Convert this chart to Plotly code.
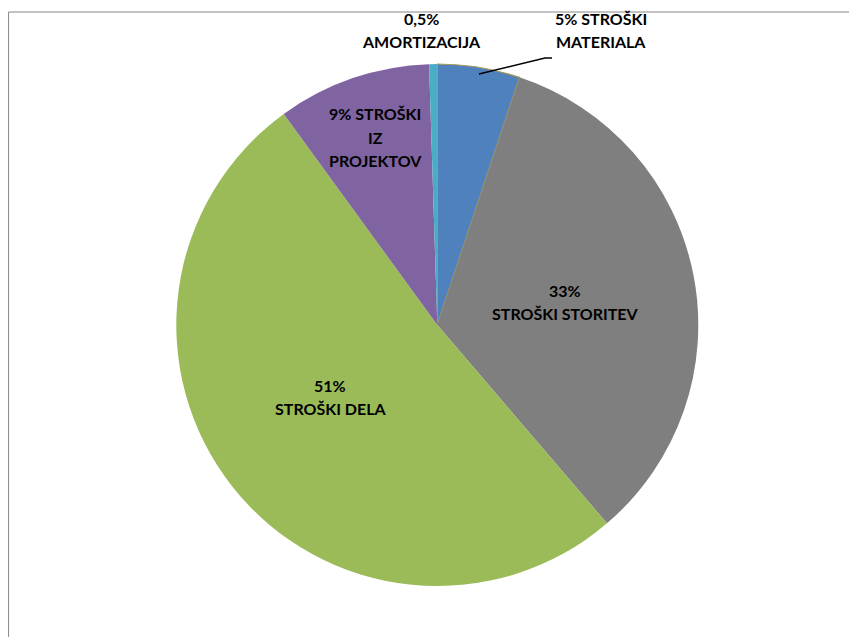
import plotly.graph_objects as go

# Data (clockwise from 12 o'clock)
categories = ["STROŠKI MATERIALA", "STROŠKI STORITEV", "STROŠKI DELA", "STROŠKI IZ PROJEKTOV", "AMORTIZACIJA"]
values = [5.1, 33.6, 51.2, 9.5, 0.5]
pct_text = ["5%", "33%", "51%", "9%", "0,5%"]
colors = ["#4F81BD", "#7F7F7F", "#9BBB59", "#8064A2", "#4BACC6"]

OFF = 8  # page body margin
W, H = 857 - OFF, 637 - OFF

def px(x):
    return (x - OFF) / W

def py(y):
    return 1 - (y - OFF) / H

cx, cy, r = 437.3, 325, 261

fig = go.Figure(go.Pie(
    labels=categories,
    values=values,
    sort=False,
    direction="clockwise",
    rotation=0,
    textinfo="none",
    hoverinfo="label+percent",
    marker=dict(colors=colors,
                line=dict(color=["#A89B5A", "#FFFFFF", "#FFFFFF", "#FFFFFF", "#FFFFFF"],
                          width=[1.2, 0, 0, 0, 0])),
    domain=dict(x=[px(cx - r), px(cx + r)], y=[py(cy + r), py(cy - r)]),
    showlegend=False,
))

# label lines (text built from data)
label_lines = [
    [pct_text[0] + " STROŠKI", "MATERIALA"],
    [pct_text[1], categories[1]],
    [pct_text[2], categories[2]],
    [pct_text[3] + " STROŠKI", "IZ", "PROJEKTOV"],
    [pct_text[4], categories[4]],
]
label_pos = [
    (601, 18, 23),
    (565, 290, 23),
    (330, 385, 23),
    (375, 113, 24),
    (421, 18, 23),
]

font = dict(family="Lato, 'Open Sans', sans-serif", size=16, color="#000000")
annotations = []
for lines, (x, y0, dy) in zip(label_lines, label_pos):
    for i, t in enumerate(lines):
        annotations.append(dict(
            x=px(x), y=py(y0 + i * dy), xref="paper", yref="paper",
            text="<b>" + t + "</b>", showarrow=False, font=font,
            xanchor="center", yanchor="middle",
        ))

shapes = [
    # chart frame (top and left visible)
    dict(type="line", xref="paper", yref="paper", x0=px(8.6), y0=py(12), x1=1.02, y1=py(12),
         line=dict(color="#868686", width=1)),
    dict(type="line", xref="paper", yref="paper", x0=px(8.6), y0=py(12), x1=px(8.6), y1=-0.02,
         line=dict(color="#868686", width=1)),
    # leader line for STROŠKI MATERIALA
    dict(type="path", xref="paper", yref="paper",
         path=f"M {px(479)} {py(74)} L {px(545)} {py(58)} L {px(552)} {py(58)}",
         line=dict(color="#000000", width=1.5)),
]

fig.update_layout(
    width=W, height=H,
    margin=dict(l=0, r=0, t=0, b=0),
    paper_bgcolor="#FFFFFF",
    plot_bgcolor="#FFFFFF",
    annotations=annotations,
    shapes=shapes,
)

fig.write_html("out.html")
